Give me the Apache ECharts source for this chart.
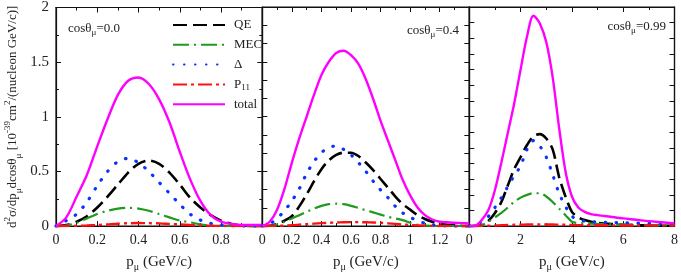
<!DOCTYPE html>
<html><head><meta charset="utf-8">
<script src="https://cdn.jsdelivr.net/npm/echarts@6/dist/echarts.min.js"></script>
<style>html,body{margin:0;padding:0;background:#fff}#c{width:681px;height:277px}</style>
</head><body><div id="c"></div>
<script>
// ---------- data ----------
const seriesNames = ['QE', 'MEC', 'Δ', 'P11', 'total'];
const panelLabels = ['0.0', '0.4', '0.99'];
const xMax = [1, 1.4, 8];
const xTickStep = [0.2, 0.2, 2];

const p1X = [0,0.05,0.1,0.15,0.2,0.25,0.3,0.35,0.4,0.45,0.5,0.55,0.6,0.65,0.7,0.75,0.8,0.85,0.9,0.95,1.0];
const p1QE = [0,0.01,0.04,0.09,0.17,0.27,0.38,0.49,0.57,0.6,0.57,0.49,0.38,0.26,0.17,0.1,0.05,0.02,0.005,0,0];
const p1MEC = [0,0.005,0.03,0.07,0.11,0.14,0.16,0.167,0.16,0.14,0.11,0.08,0.05,0.035,0.015,0.005,0.002,0,0,0,0];
const p1Delta = [0,0.05,0.11,0.22,0.37,0.5,0.59,0.62,0.58,0.5,0.4,0.3,0.2,0.11,0.055,0.025,0.01,0.004,0,0,0];
const p1P11 = [0,0.001,0.003,0.006,0.01,0.016,0.022,0.026,0.028,0.027,0.025,0.02,0.015,0.01,0.006,0.003,0.001,0,0,0,0];
const p1Total = [0,0.08,0.27,0.47,0.73,0.98,1.2,1.33,1.36,1.3,1.16,0.95,0.68,0.43,0.23,0.1,0.04,0.02,0.01,0.01,0.01];

const p2X = [0,0.05,0.1,0.15,0.2,0.25,0.3,0.35,0.4,0.45,0.5,0.55,0.6,0.65,0.7,0.75,0.8,0.85,0.9,0.95,1.0,1.05,1.1,1.15,1.2,1.25,1.3,1.35,1.4];
const p2QE = [0,0.003,0.02,0.05,0.09,0.18,0.29,0.41,0.52,0.6,0.65,0.67,0.67,0.64,0.58,0.51,0.43,0.35,0.27,0.2,0.15,0.1,0.065,0.04,0.022,0.012,0.006,0.002,0];
const p2MEC = [0,0.003,0.015,0.04,0.07,0.1,0.13,0.16,0.185,0.2,0.205,0.2,0.185,0.165,0.145,0.125,0.105,0.085,0.07,0.055,0.03,0.012,0.005,0,0,0,0,0,0];
const p2Delta = [0,0.02,0.07,0.14,0.23,0.34,0.48,0.59,0.67,0.72,0.73,0.7,0.65,0.58,0.5,0.41,0.33,0.26,0.18,0.12,0.08,0.05,0.025,0.012,0.005,0.002,0,0,0];
const p2P11 = [0,0.001,0.002,0.005,0.008,0.013,0.018,0.023,0.027,0.03,0.033,0.035,0.036,0.036,0.035,0.033,0.03,0.025,0.02,0.015,0.01,0.007,0.004,0.002,0.001,0,0,0,0];
const p2Total = [0,0.04,0.15,0.34,0.58,0.8,1.0,1.2,1.38,1.5,1.58,1.6,1.56,1.48,1.34,1.16,0.96,0.78,0.6,0.42,0.28,0.17,0.1,0.06,0.04,0.035,0.03,0.027,0.025];

const p3X = [0,0.25,0.5,0.75,1,1.25,1.5,1.75,2,2.25,2.5,2.75,3,3.25,3.5,3.75,4,4.25,4.5,4.75,5,5.5,6,6.5,7,7.5,8];
const p3QE = [0,0.002,0.01,0.05,0.12,0.22,0.37,0.52,0.63,0.74,0.82,0.84,0.8,0.7,0.45,0.27,0.13,0.08,0.055,0.04,0.03,0.02,0.013,0.009,0.006,0.004,0.003];
const p3MEC = [0,0.002,0.01,0.04,0.08,0.12,0.17,0.22,0.26,0.285,0.3,0.3,0.27,0.22,0.16,0.1,0.04,0.028,0.024,0.022,0.02,0.017,0.015,0.012,0.01,0.009,0.008];
const p3Delta = [0,0.01,0.04,0.09,0.17,0.26,0.36,0.46,0.55,0.7,0.78,0.73,0.63,0.47,0.3,0.18,0.09,0.06,0.045,0.04,0.037,0.033,0.03,0.027,0.025,0.022,0.02];
const p3P11 = [0,0.001,0.002,0.004,0.006,0.008,0.01,0.012,0.013,0.014,0.015,0.015,0.015,0.014,0.013,0.012,0.01,0.009,0.009,0.008,0.008,0.007,0.006,0.005,0.005,0.004,0.004];
const p3Total = [0,0.005,0.06,0.15,0.33,0.58,0.85,1.12,1.43,1.73,1.92,1.85,1.68,1.36,0.9,0.5,0.27,0.17,0.13,0.11,0.1,0.085,0.07,0.058,0.045,0.035,0.025];

const panels = [
  {x: p1X, vals: [p1QE, p1MEC, p1Delta, p1P11, p1Total]},
  {x: p2X, vals: [p2QE, p2MEC, p2Delta, p2P11, p2Total]},
  {x: p3X, vals: [p3QE, p3MEC, p3Delta, p3P11, p3Total]}
];

// ---------- styling ----------
const FONT = '"Liberation Serif","DejaVu Serif",serif';
const lineStyles = {
  'QE':    {color: '#000000', type: [14, 6], width: 2.6, cap: 'butt'},
  'MEC':   {color: '#1f9a1f', type: [16, 5, 2, 5], width: 2.2, cap: 'butt'},
  'Δ':     {color: '#0a32ff', type: [0.5, 10.5], width: 3.2, cap: 'round'},
  'P11':   {color: '#ff1010', type: [14, 4, 3, 4], width: 2.4, cap: 'butt'},
  'total': {color: '#ff00ff', type: 'solid', width: 2.4, cap: 'butt'}
};
const gridBoxes = [
  {left: 56, top: 7, width: 206.3, height: 225.7},
  {left: 262.3, top: 7, width: 207, height: 225.7},
  {left: 469.3, top: 7, width: 207, height: 225.7}
];
const yTickStep = [0.5, 2 / 12, 2 / 14];

const grid = gridBoxes.map(g => Object.assign({show: true, borderColor: '#111', borderWidth: 1.2, backgroundColor: 'transparent'}, g));

const xAxis = [];
const yAxis = [];
for (let pos = 0; pos < 2; pos++) {
  for (let i = 0; i < 3; i++) {
    const bottom = pos === 0;
    xAxis.push({
      type: 'value', gridIndex: i, min: 0, max: xMax[i], interval: xTickStep[i],
      position: bottom ? 'bottom' : 'top',
      axisLine: {show: true, onZero: false, lineStyle: {color: '#111', width: 1.2}},
      axisTick: {show: true, inside: true, length: 5, lineStyle: {color: '#111'}},
      minorTick: {show: true, splitNumber: 2, length: 3, lineStyle: {color: '#111'}},
      splitLine: {show: false},
      axisLabel: {show: bottom, fontFamily: FONT, fontSize: 14, color: '#222', margin: 7,
                  showMaxLabel: i === 2, showMinLabel: true},
      name: bottom ? 'p{sub|μ} (GeV/c)' : '',
      nameLocation: 'middle', nameGap: 23,
      nameTextStyle: {fontFamily: FONT, fontSize: 15, color: '#222', lineHeight: 20,
        rich: {sub: {fontFamily: FONT, fontSize: 10, lineHeight: 10, verticalAlign: 'bottom', color: '#222'}}}
    });
    yAxis.push({
      type: 'value', gridIndex: i, min: 0, max: 2, interval: yTickStep[i],
      position: bottom ? 'left' : 'right',
      axisLine: {show: true, onZero: false, lineStyle: {color: '#111', width: 1.2}},
      axisTick: {show: true, inside: true, length: 5, lineStyle: {color: '#111'}},
      minorTick: {show: i === 0, splitNumber: 2, length: 3, lineStyle: {color: '#111'}},
      splitLine: {show: false},
      axisLabel: {show: bottom && i === 0, fontFamily: FONT, fontSize: 15, color: '#222', margin: 7},
      name: (bottom && i === 0) ? 'd{sup|2}σ/dp{sub|μ}dcosθ{sub|μ} [10{sup|-39}cm{sup|2}/(nucleon GeV/c)]' : '',
      nameLocation: 'middle', nameGap: 33, nameRotate: 90,
      nameTextStyle: {fontFamily: FONT, fontSize: 13, color: '#222', lineHeight: 20,
        rich: {
          sup: {fontFamily: FONT, fontSize: 9, lineHeight: 8, verticalAlign: 'top', color: '#222'},
          sub: {fontFamily: FONT, fontSize: 9, lineHeight: 8, verticalAlign: 'bottom', color: '#222'}
        }}
    });
  }
}

const series = [];
panels.forEach((p, i) => {
  seriesNames.forEach((name, k) => {
    const st = lineStyles[name];
    series.push({
      type: 'line', name: name, xAxisIndex: i, yAxisIndex: i,
      data: p.x.map((x, j) => [x, p.vals[k][j]]),
      smooth: 0.3, showSymbol: false, symbol: 'none',
      clip: true, silent: true, animation: false,
      lineStyle: {color: st.color, type: st.type, width: st.width, cap: st.cap},
      itemStyle: {color: st.color}
    });
  });
});

const annRich = {s: {fontFamily: FONT, fontSize: 9, lineHeight: 8, verticalAlign: 'bottom', fill: '#222'}};
const annPos = [
  {x: 68, y: 29, align: 'left'},
  {x: 459, y: 31, align: 'right'},
  {x: 666, y: 27, align: 'right'}
];
const graphic = annPos.map((a, i) => ({
  type: 'text', x: a.x, y: a.y, z: 100,
  style: {text: 'cosθ{s|μ}=' + panelLabels[i], fontFamily: FONT, fontSize: 13, fill: '#222',
          align: a.align, verticalAlign: 'middle', lineHeight: 16, rich: annRich}
}));

const option = {
  backgroundColor: '#fff',
  animation: false,
  grid: grid,
  xAxis: xAxis,
  yAxis: yAxis,
  series: series,
  graphic: graphic,
  legend: {
    data: seriesNames, orient: 'vertical', left: 167, top: 12,
    itemWidth: 52, itemHeight: 14, itemGap: 3.8, selectedMode: false,
    itemStyle: {opacity: 0},
    formatter: n => n === 'P11' ? 'P{sub|11}' : n,
    textStyle: {fontFamily: FONT, fontSize: 13, color: '#222', padding: [0, 0, 0, 4], lineHeight: 16,
      rich: {sub: {fontFamily: FONT, fontSize: 9, lineHeight: 8, verticalAlign: 'bottom', color: '#222'}}}
  }
};
const chart = echarts.init(document.getElementById('c'));
chart.setOption(option);
</script>
</body></html>
